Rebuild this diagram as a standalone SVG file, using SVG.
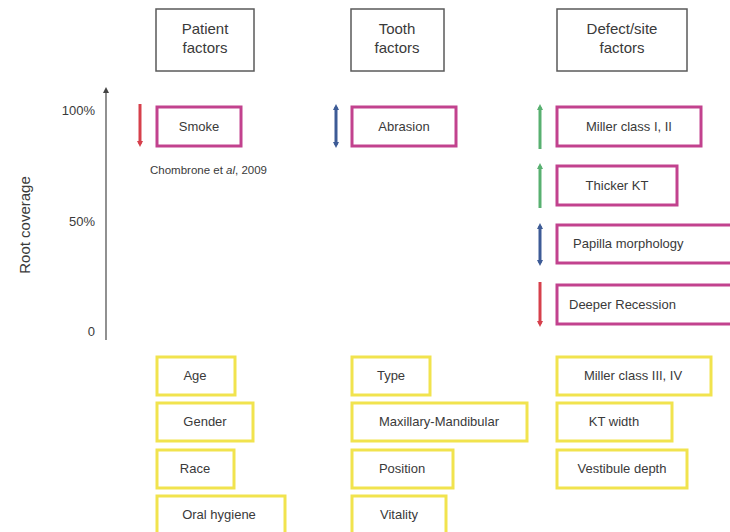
<svg xmlns="http://www.w3.org/2000/svg" width="730" height="532" viewBox="0 0 730 532">
<style>
text{font-family:"Liberation Sans",Arial,sans-serif;fill:#3a3a3a;font-size:13px}
.hd{fill:#fff;stroke:#5a5a5a;stroke-width:1.5}
.hd-t{font-size:15px;text-anchor:middle}
.mg{fill:#fff;stroke:#c2428e;stroke-width:3}
.yl{fill:#fff;stroke:#f1e34e;stroke-width:3}
.c{text-anchor:middle}
.ax{stroke:#555;stroke-width:1.3;fill:none}
.red{stroke:#d6404c;stroke-width:3}
.grn{stroke:#58b070;stroke-width:3}
.blu{stroke:#3d5b96;stroke-width:3}
</style>
<defs>
<marker id="ahR" markerWidth="6" markerHeight="6" refX="3" refY="3" orient="auto" markerUnits="userSpaceOnUse"><path d="M0,0 L6,3 L0,6 z" fill="#d6404c"/></marker>
<marker id="ahG" markerWidth="6" markerHeight="6" refX="3" refY="3" orient="auto" markerUnits="userSpaceOnUse"><path d="M0,0 L6,3 L0,6 z" fill="#58b070"/></marker>
<marker id="ahB" markerWidth="6" markerHeight="6" refX="3" refY="3" orient="auto-start-reverse" markerUnits="userSpaceOnUse"><path d="M0,0 L6,3 L0,6 z" fill="#3d5b96"/></marker>
<marker id="ahK" markerWidth="6" markerHeight="6" refX="3" refY="3" orient="auto" markerUnits="userSpaceOnUse"><path d="M0,0 L6,3 L0,6 z" fill="#444"/></marker>
</defs>
<rect width="730" height="532" fill="#fff"/>

<g id="axis">
<line class="ax" x1="106" y1="340" x2="106" y2="90" marker-end="url(#ahK)"/>
<text x="95" y="115" text-anchor="end">100%</text>
<text x="95" y="226" text-anchor="end">50%</text>
<text x="95" y="336" text-anchor="end">0</text>
<text transform="translate(30,225) rotate(-90)" class="c" style="font-size:15px">Root coverage</text>
</g>

<g id="hdr-patient"><rect class="hd" x="156" y="9" width="98" height="62"/><text class="hd-t" x="205" y="34">Patient</text><text class="hd-t" x="205" y="53">factors</text></g>
<g id="hdr-tooth"><rect class="hd" x="351" y="9" width="93" height="62"/><text class="hd-t" x="397" y="34">Tooth</text><text class="hd-t" x="397" y="53">factors</text></g>
<g id="hdr-defect"><rect class="hd" x="557" y="9" width="130" height="62"/><text class="hd-t" x="622" y="34">Defect/site</text><text class="hd-t" x="622" y="53">factors</text></g>

<g id="smoke"><rect class="mg" x="157" y="107" width="84" height="39"/><text class="c" x="199" y="131">Smoke</text></g>
<text x="150" y="174" style="font-size:11.5px">Chombrone et <tspan font-style="italic">al</tspan>, 2009</text>
<g id="abrasion"><rect class="mg" x="352" y="107" width="104" height="39"/><text class="c" x="404" y="131">Abrasion</text></g>
<g id="miller12"><rect class="mg" x="557" y="107" width="144" height="39"/><text class="c" x="629" y="131">Miller class I, II</text></g>
<g id="thickerkt"><rect class="mg" x="557" y="166" width="120" height="39"/><text class="c" x="617" y="190">Thicker KT</text></g>
<g id="papilla"><rect class="mg" x="557" y="225" width="176" height="38"/><text x="573" y="248">Papilla morphology</text></g>
<g id="deeper"><rect class="mg" x="557" y="285" width="176" height="39"/><text x="569" y="309">Deeper Recession</text></g>

<g id="connectors">
<line class="red" x1="140" y1="104" x2="140" y2="144" marker-end="url(#ahR)"/>
<line class="blu" x1="336" y1="107" x2="336" y2="145" marker-start="url(#ahB)" marker-end="url(#ahB)"/>
<line class="grn" x1="540" y1="149" x2="540" y2="107" marker-end="url(#ahG)"/>
<line class="grn" x1="540" y1="208" x2="540" y2="166" marker-end="url(#ahG)"/>
<line class="blu" x1="540" y1="226" x2="540" y2="263" marker-start="url(#ahB)" marker-end="url(#ahB)"/>
<line class="red" x1="540" y1="282" x2="540" y2="324" marker-end="url(#ahR)"/>
</g>

<g id="age"><rect class="yl" x="157" y="357" width="78" height="38"/><text class="c" x="195" y="380">Age</text></g>
<g id="gender"><rect class="yl" x="157" y="403" width="96" height="38"/><text class="c" x="205" y="426">Gender</text></g>
<g id="race"><rect class="yl" x="157" y="450" width="77" height="38"/><text class="c" x="195" y="473">Race</text></g>
<g id="oral"><rect class="yl" x="157" y="496" width="128" height="38"/><text class="c" x="219" y="519">Oral hygiene</text></g>

<g id="type"><rect class="yl" x="352" y="357" width="78" height="38"/><text class="c" x="391" y="380">Type</text></g>
<g id="maxmand"><rect class="yl" x="352" y="403" width="175" height="38"/><text class="c" x="439" y="426">Maxillary-Mandibular</text></g>
<g id="position"><rect class="yl" x="352" y="450" width="101" height="38"/><text class="c" x="402" y="473">Position</text></g>
<g id="vitality"><rect class="yl" x="352" y="496" width="94" height="38"/><text class="c" x="399" y="519">Vitality</text></g>

<g id="miller34"><rect class="yl" x="557" y="357" width="154" height="38"/><text class="c" x="633" y="380">Miller class III, IV</text></g>
<g id="ktwidth"><rect class="yl" x="557" y="403" width="115" height="38"/><text class="c" x="614" y="426">KT width</text></g>
<g id="vestibule"><rect class="yl" x="557" y="450" width="130" height="38"/><text class="c" x="622" y="473">Vestibule depth</text></g>
</svg>
